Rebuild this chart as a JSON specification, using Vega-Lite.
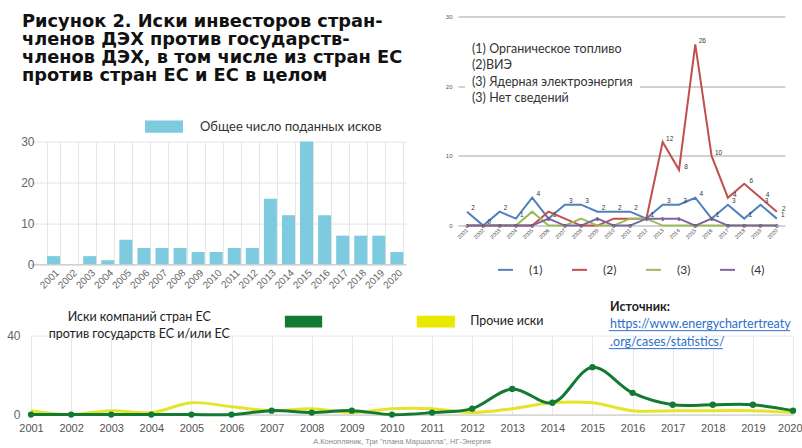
{
  "$schema": "https://vega.github.io/schema/vega-lite/v6.json",
  "padding": {"left": 0, "top": 12.6, "right": 0, "bottom": 0},
  "background": "white",
  "spacing": 9,
  "resolve": {"scale": {"color": "independent"}, "legend": {"color": "independent"}},
  "config": {
    "view": {"stroke": null},
    "font": "Liberation Sans",
    "axis": {"labelFont": "Liberation Sans"},
    "legend": {"labelFont": "Lato"},
    "text": {"font": "Lato"}
  },
  "vconcat": [
    {
      "hconcat": [
        {
          "vconcat": [
            {
              "width": 361,
              "height": 1,
              "data": {"values": []},
              "mark": "point",
              "title": {
                "text": ["Рисунок 2. Иски инвесторов стран-", "членов ДЭХ против государств-", "членов ДЭХ, в том числе из стран ЕС", "против стран ЕС и ЕС в целом"],
                "orient": "bottom", "anchor": "start", "frame": "group", "dx": -9, "offset": -4.4,
                "font": "DejaVu Sans", "fontSize": 17.8, "fontWeight": "bold", "color": "#111",
                "lineHeight": 17.8, "baseline": "top"
              }
            },
            {
              "width": 375,
              "height": 122.7,
              "data": {"values": [
                {"year": "2001", "claims": 2}, {"year": "2002", "claims": 0}, {"year": "2003", "claims": 2},
                {"year": "2004", "claims": 1}, {"year": "2005", "claims": 6}, {"year": "2006", "claims": 4},
                {"year": "2007", "claims": 4}, {"year": "2008", "claims": 4}, {"year": "2009", "claims": 3},
                {"year": "2010", "claims": 3}, {"year": "2011", "claims": 4}, {"year": "2012", "claims": 4},
                {"year": "2013", "claims": 16}, {"year": "2014", "claims": 12}, {"year": "2015", "claims": 30},
                {"year": "2016", "claims": 12}, {"year": "2017", "claims": 7}, {"year": "2018", "claims": 7},
                {"year": "2019", "claims": 7}, {"year": "2020", "claims": 3}
              ]},
              "mark": {"type": "bar"},
              "encoding": {
                "x": {"field": "year", "type": "ordinal",
                  "scale": {"paddingInner": 0.28, "paddingOuter": 0.517, "align": 0.86},
                  "axis": {"title": null, "labelAngle": -45, "labelFontSize": 10, "labelColor": "#666",
                    "grid": true, "gridColor": "#e6e6e6", "tickBand": "extent", "ticks": false,
                    "domainColor": "#c4c4c4", "labelPadding": 3}},
                "y": {"field": "claims", "type": "quantitative", "scale": {"domain": [0, 30]},
                  "axis": {"title": null, "values": [0, 10, 20, 30], "labelFontSize": 12, "labelColor": "#666",
                    "gridColor": "#e3e3e3", "ticks": false, "domain": false, "labelPadding": -3}},
                "color": {"datum": "Общее число поданных исков", "type": "nominal",
                  "scale": {"range": ["#7ecbe0"]},
                  "legend": {"title": null, "orient": "none", "legendX": 114, "legendY": -34,
                    "symbolType": "M-1,-0.32H1V0.32H-1Z", "symbolSize": 1444, "symbolStrokeWidth": 0,
                    "symbolOpacity": 1, "labelFontSize": 13, "labelColor": "#333", "labelOffset": 17,
                    "labelLimit": 300, "padding": 0}}
              }
            }
          ],
          "spacing": 23,
          "resolve": {"scale": {"color": "independent"}, "legend": {"color": "independent"}}
        },
        {
          "width": 327,
          "height": 209,
          "layer": [
            {
              "data": {"values": [
                {"year": 2001, "s": "(1)", "v": 2}, {"year": 2002, "s": "(1)", "v": 0}, {"year": 2003, "s": "(1)", "v": 2}, {"year": 2004, "s": "(1)", "v": 1}, {"year": 2005, "s": "(1)", "v": 4},
                {"year": 2006, "s": "(1)", "v": 1}, {"year": 2007, "s": "(1)", "v": 3}, {"year": 2008, "s": "(1)", "v": 3}, {"year": 2009, "s": "(1)", "v": 2}, {"year": 2010, "s": "(1)", "v": 2},
                {"year": 2011, "s": "(1)", "v": 2}, {"year": 2012, "s": "(1)", "v": 1}, {"year": 2013, "s": "(1)", "v": 3}, {"year": 2014, "s": "(1)", "v": 3}, {"year": 2015, "s": "(1)", "v": 4},
                {"year": 2016, "s": "(1)", "v": 1}, {"year": 2017, "s": "(1)", "v": 3}, {"year": 2018, "s": "(1)", "v": 1}, {"year": 2019, "s": "(1)", "v": 3}, {"year": 2020, "s": "(1)", "v": 1},
                {"year": 2001, "s": "(2)", "v": 0}, {"year": 2002, "s": "(2)", "v": 0}, {"year": 2003, "s": "(2)", "v": 0}, {"year": 2004, "s": "(2)", "v": 0}, {"year": 2005, "s": "(2)", "v": 0},
                {"year": 2006, "s": "(2)", "v": 2}, {"year": 2007, "s": "(2)", "v": 1}, {"year": 2008, "s": "(2)", "v": 0}, {"year": 2009, "s": "(2)", "v": 0}, {"year": 2010, "s": "(2)", "v": 1},
                {"year": 2011, "s": "(2)", "v": 1}, {"year": 2012, "s": "(2)", "v": 1}, {"year": 2013, "s": "(2)", "v": 12}, {"year": 2014, "s": "(2)", "v": 8}, {"year": 2015, "s": "(2)", "v": 26},
                {"year": 2016, "s": "(2)", "v": 10}, {"year": 2017, "s": "(2)", "v": 4}, {"year": 2018, "s": "(2)", "v": 6}, {"year": 2019, "s": "(2)", "v": 4}, {"year": 2020, "s": "(2)", "v": 2},
                {"year": 2001, "s": "(3)", "v": 0}, {"year": 2002, "s": "(3)", "v": 0}, {"year": 2003, "s": "(3)", "v": 0}, {"year": 2004, "s": "(3)", "v": 0}, {"year": 2005, "s": "(3)", "v": 2},
                {"year": 2006, "s": "(3)", "v": 0}, {"year": 2007, "s": "(3)", "v": 0}, {"year": 2008, "s": "(3)", "v": 1}, {"year": 2009, "s": "(3)", "v": 0}, {"year": 2010, "s": "(3)", "v": 0},
                {"year": 2011, "s": "(3)", "v": 1}, {"year": 2012, "s": "(3)", "v": 1}, {"year": 2013, "s": "(3)", "v": 0}, {"year": 2014, "s": "(3)", "v": 0}, {"year": 2015, "s": "(3)", "v": 0},
                {"year": 2016, "s": "(3)", "v": 0}, {"year": 2017, "s": "(3)", "v": 0}, {"year": 2018, "s": "(3)", "v": 0}, {"year": 2019, "s": "(3)", "v": 0}, {"year": 2020, "s": "(3)", "v": 0},
                {"year": 2001, "s": "(4)", "v": 0}, {"year": 2002, "s": "(4)", "v": 0}, {"year": 2003, "s": "(4)", "v": 0}, {"year": 2004, "s": "(4)", "v": 0}, {"year": 2005, "s": "(4)", "v": 0},
                {"year": 2006, "s": "(4)", "v": 1}, {"year": 2007, "s": "(4)", "v": 0}, {"year": 2008, "s": "(4)", "v": 0}, {"year": 2009, "s": "(4)", "v": 1}, {"year": 2010, "s": "(4)", "v": 0},
                {"year": 2011, "s": "(4)", "v": 0}, {"year": 2012, "s": "(4)", "v": 1}, {"year": 2013, "s": "(4)", "v": 1}, {"year": 2014, "s": "(4)", "v": 1}, {"year": 2015, "s": "(4)", "v": 0},
                {"year": 2016, "s": "(4)", "v": 1}, {"year": 2017, "s": "(4)", "v": 0}, {"year": 2018, "s": "(4)", "v": 0}, {"year": 2019, "s": "(4)", "v": 0}, {"year": 2020, "s": "(4)", "v": 0}
              ]},
              "layer": [
                {
                  "mark": {"type": "line", "strokeWidth": 2},
                  "encoding": {
                    "x": {"field": "year", "type": "quantitative",
                      "scale": {"domain": [2000.45, 2020.5], "nice": false, "zero": false},
                      "axis": {"title": null, "labels": false, "grid": false, "domain": false, "ticks": false}},
                    "y": {"field": "v", "type": "quantitative", "scale": {"domain": [0, 30]},
                      "axis": {"title": null, "values": [0, 5, 10, 15, 20, 25, 30], "labelFontSize": 6, "labelColor": "#555",
                        "gridColor": "#d2d2d2", "gridWidth": 2, "domain": false, "ticks": false,
                        "labelPadding": 6, "minExtent": 15}},
                    "color": {"field": "s", "type": "nominal",
                      "scale": {"domain": ["(1)", "(2)", "(3)", "(4)"], "range": ["#4f81bd", "#c0504d", "#9bbb59", "#8064a2"]},
                      "legend": {"title": null, "orient": "none", "direction": "horizontal", "columns": 4,
                        "legendX": 39, "legendY": 244.5, "symbolType": "stroke", "symbolSize": 225,
                        "symbolStrokeWidth": 2, "labelFontSize": 12, "labelColor": "#333",
                        "labelOffset": 15, "columnPadding": 25, "padding": 0}}
                  }
                },
                {
                  "transform": [{"filter": "datum.s == '(1)'"}],
                  "mark": {"type": "text", "angle": 315, "align": "right", "baseline": "middle", "fontSize": 5.5, "color": "#444", "font": "Liberation Sans"},
                  "encoding": {
                    "x": {"field": "year", "type": "quantitative", "scale": {"domain": [2000.45, 2020.5], "nice": false, "zero": false}},
                    "y": {"datum": -0.55, "type": "quantitative", "scale": {"domain": [0, 30]}},
                    "text": {"field": "year", "type": "quantitative", "format": "d"}
                  }
                },
                {
                  "transform": [{"filter": "datum.s == '(1)'"}],
                  "mark": {"type": "text", "dx": 6, "dy": -4, "fontSize": 6.5, "color": "#333", "font": "Liberation Sans"},
                  "encoding": {
                    "x": {"field": "year", "type": "quantitative", "scale": {"domain": [2000.45, 2020.5], "nice": false, "zero": false}},
                    "y": {"field": "v", "type": "quantitative", "scale": {"domain": [0, 30]}},
                    "text": {"field": "v", "type": "quantitative"}
                  }
                },
                {
                  "transform": [{"filter": "datum.s == '(2)' && datum.year >= 2013"}],
                  "mark": {"type": "text", "dx": 7, "dy": -3, "fontSize": 6.5, "color": "#333", "font": "Liberation Sans"},
                  "encoding": {
                    "x": {"field": "year", "type": "quantitative", "scale": {"domain": [2000.45, 2020.5], "nice": false, "zero": false}},
                    "y": {"field": "v", "type": "quantitative", "scale": {"domain": [0, 30]}},
                    "text": {"field": "v", "type": "quantitative"}
                  }
                },
                {
                  "transform": [{"filter": "datum.s == '(4)'"}],
                  "mark": {"type": "text", "fontSize": 6, "color": "#444", "font": "Liberation Sans"},
                  "encoding": {
                    "x": {"field": "year", "type": "quantitative", "scale": {"domain": [2000.45, 2020.5], "nice": false, "zero": false}},
                    "y": {"field": "v", "type": "quantitative", "scale": {"domain": [0, 30]}},
                    "text": {"field": "v", "type": "quantitative"}
                  }
                }
              ]
            },
            {
              "data": {"values": [{}]},
              "mark": {"type": "rect", "color": "white", "opacity": 1},
              "encoding": {
                "x": {"datum": 2000.88, "type": "quantitative", "scale": {"domain": [2000.45, 2020.5], "nice": false, "zero": false}},
                "x2": {"datum": 2011.61},
                "y": {"datum": 17.1, "type": "quantitative", "scale": {"domain": [0, 30]}},
                "y2": {"datum": 27}
              }
            },
            {
              "data": {"values": [{}]},
              "mark": {"type": "text", "align": "left", "baseline": "middle", "fontSize": 12.5, "lineHeight": 16.4, "color": "#333", "font": "Lato"},
              "encoding": {
                "x": {"datum": 2001.31, "type": "quantitative", "scale": {"domain": [2000.45, 2020.5], "nice": false, "zero": false}},
                "y": {"datum": 25.36, "type": "quantitative", "scale": {"domain": [0, 30]}},
                "text": {"value": ["(1) Органическое топливо", "(2)ВИЭ", "(3) Ядерная электроэнергия", "(3) Нет сведений"]}
              }
            }
          ]
        }
      ],
      "spacing": 37,
      "resolve": {"scale": {"color": "independent"}, "legend": {"color": "independent"}}
    },
    {
      "width": 762,
      "height": 79,
      "layer": [
        {
          "data": {"values": [
            {"year": 2001, "eu": 0, "other": 2}, {"year": 2002, "eu": 0, "other": 0}, {"year": 2003, "eu": 0, "other": 2},
            {"year": 2004, "eu": 0, "other": 1}, {"year": 2005, "eu": 0, "other": 6}, {"year": 2006, "eu": 0, "other": 4},
            {"year": 2007, "eu": 2, "other": 2}, {"year": 2008, "eu": 1, "other": 3}, {"year": 2009, "eu": 2, "other": 1},
            {"year": 2010, "eu": 0, "other": 3}, {"year": 2011, "eu": 1, "other": 3}, {"year": 2012, "eu": 3, "other": 1},
            {"year": 2013, "eu": 13, "other": 3}, {"year": 2014, "eu": 6, "other": 6}, {"year": 2015, "eu": 24, "other": 6},
            {"year": 2016, "eu": 11, "other": 2}, {"year": 2017, "eu": 5, "other": 2}, {"year": 2018, "eu": 5, "other": 2},
            {"year": 2019, "eu": 5, "other": 2}, {"year": 2020, "eu": 2, "other": 1}
          ]},
          "layer": [
            {
              "mark": {"type": "line", "color": "#e4e42a", "strokeWidth": 3, "interpolate": "catmull-rom"},
              "encoding": {
                "x": {"field": "year", "type": "quantitative", "scale": {"domain": [2001, 2020], "nice": false, "zero": false},
                  "axis": {"title": null, "values": [2001, 2002, 2003, 2004, 2005, 2006, 2007, 2008, 2009, 2010, 2011, 2012, 2013, 2014, 2015, 2016, 2017, 2018, 2019, 2020],
                    "format": "d", "labelFontSize": 11, "labelColor": "#555", "grid": true, "gridColor": "#e8e8e8",
                    "ticks": false, "domainColor": "#c4c4c4", "labelPadding": 8, "labelFlush": false, "labelOverlap": false,
                    "labelAlign": {"condition": {"test": "datum.value == 2020", "value": "right"}, "value": "center"},
                    "labelOffset": {"condition": {"test": "datum.value == 2020", "value": 9}, "value": 0}}},
                "y": {"field": "other", "type": "quantitative", "scale": {"domain": [0, 40]},
                  "axis": {"title": null, "values": [0, 20, 40], "labelFontSize": 12, "labelColor": "#666",
                    "gridColor": "#e8e8e8", "ticks": false, "domain": false, "labelPadding": 11, "minExtent": 31}}
              }
            },
            {
              "mark": {"type": "line", "color": "#137a33", "strokeWidth": 3, "interpolate": "catmull-rom"},
              "encoding": {
                "x": {"field": "year", "type": "quantitative", "scale": {"domain": [2001, 2020], "nice": false, "zero": false}},
                "y": {"field": "eu", "type": "quantitative", "scale": {"domain": [0, 40]}}
              }
            },
            {
              "mark": {"type": "circle", "color": "#137a33", "size": 40, "opacity": 1},
              "encoding": {
                "x": {"field": "year", "type": "quantitative", "scale": {"domain": [2001, 2020], "nice": false, "zero": false}},
                "y": {"field": "eu", "type": "quantitative", "scale": {"domain": [0, 40]}}
              }
            }
          ]
        },
        {
          "data": {"values": [{}]},
          "mark": {"type": "rect", "color": "#137a33"},
          "encoding": {
            "x": {"datum": 2007.33, "type": "quantitative", "scale": {"domain": [2001, 2020], "nice": false, "zero": false}},
            "x2": {"datum": 2008.26},
            "y": {"datum": 50.1, "type": "quantitative", "scale": {"domain": [0, 40]}},
            "y2": {"datum": 44.1}
          }
        },
        {
          "data": {"values": [{}]},
          "mark": {"type": "rect", "color": "#e8e800"},
          "encoding": {
            "x": {"datum": 2010.62, "type": "quantitative", "scale": {"domain": [2001, 2020], "nice": false, "zero": false}},
            "x2": {"datum": 2011.57},
            "y": {"datum": 50.1, "type": "quantitative", "scale": {"domain": [0, 40]}},
            "y2": {"datum": 44.1}
          }
        },
        {
          "data": {"values": [{}]},
          "mark": {"type": "text", "align": "center", "baseline": "middle", "fontSize": 12.5, "lineHeight": 16.6, "color": "#222", "font": "Lato"},
          "encoding": {
            "x": {"datum": 2003.7, "type": "quantitative", "scale": {"domain": [2001, 2020], "nice": false, "zero": false}},
            "y": {"datum": 49.27, "type": "quantitative", "scale": {"domain": [0, 40]}},
            "text": {"value": ["Иски компаний стран ЕС", "против государств  ЕС и/или ЕС"]}
          }
        },
        {
          "data": {"values": [{}]},
          "mark": {"type": "text", "align": "left", "baseline": "middle", "fontSize": 12.5, "color": "#222", "font": "Lato"},
          "encoding": {
            "x": {"datum": 2011.95, "type": "quantitative", "scale": {"domain": [2001, 2020], "nice": false, "zero": false}},
            "y": {"datum": 47.6, "type": "quantitative", "scale": {"domain": [0, 40]}},
            "text": {"value": "Прочие иски"}
          }
        },
        {
          "data": {"values": [{}]},
          "mark": {"type": "text", "align": "left", "baseline": "middle", "fontSize": 12.5, "fontWeight": "bold", "color": "#222", "font": "Lato"},
          "encoding": {
            "x": {"datum": 2015.44, "type": "quantitative", "scale": {"domain": [2001, 2020], "nice": false, "zero": false}},
            "y": {"datum": 54.7, "type": "quantitative", "scale": {"domain": [0, 40]}},
            "text": {"value": "Источник:"}
          }
        },
        {
          "data": {"values": [{}]},
          "mark": {"type": "text", "align": "left", "baseline": "middle", "fontSize": 12.5, "lineHeight": 18, "color": "#2b6fca", "font": "Lato"},
          "encoding": {
            "x": {"datum": 2015.44, "type": "quantitative", "scale": {"domain": [2001, 2020], "nice": false, "zero": false}},
            "y": {"datum": 46.08, "type": "quantitative", "scale": {"domain": [0, 40]}},
            "text": {"value": ["https://www.energychartertreaty", ".org/cases/statistics/"]}
          }
        },
        {
          "data": {"values": [{}]},
          "mark": {"type": "rule", "color": "#2b6fca", "strokeWidth": 1},
          "encoding": {
            "x": {"datum": 2015.41, "type": "quantitative", "scale": {"domain": [2001, 2020], "nice": false, "zero": false}},
            "x2": {"datum": 2019.93},
            "y": {"datum": 42.5, "type": "quantitative", "scale": {"domain": [0, 40]}}
          }
        },
        {
          "data": {"values": [{}]},
          "mark": {"type": "rule", "color": "#2b6fca", "strokeWidth": 1},
          "encoding": {
            "x": {"datum": 2015.41, "type": "quantitative", "scale": {"domain": [2001, 2020], "nice": false, "zero": false}},
            "x2": {"datum": 2018.25},
            "y": {"datum": 33.4, "type": "quantitative", "scale": {"domain": [0, 40]}}
          }
        },
        {
          "data": {"values": [{}]},
          "mark": {"type": "text", "align": "center", "baseline": "middle", "fontSize": 7.5, "color": "#8a8a8a", "font": "Liberation Sans"},
          "encoding": {
            "x": {"datum": 2010.25, "type": "quantitative", "scale": {"domain": [2001, 2020], "nice": false, "zero": false}},
            "y": {"datum": -13.7, "type": "quantitative", "scale": {"domain": [0, 40]}},
            "text": {"value": "А.Конопляник, Три \"плана Маршалла\", НГ-Энергия"}
          }
        }
      ]
    }
  ]
}
